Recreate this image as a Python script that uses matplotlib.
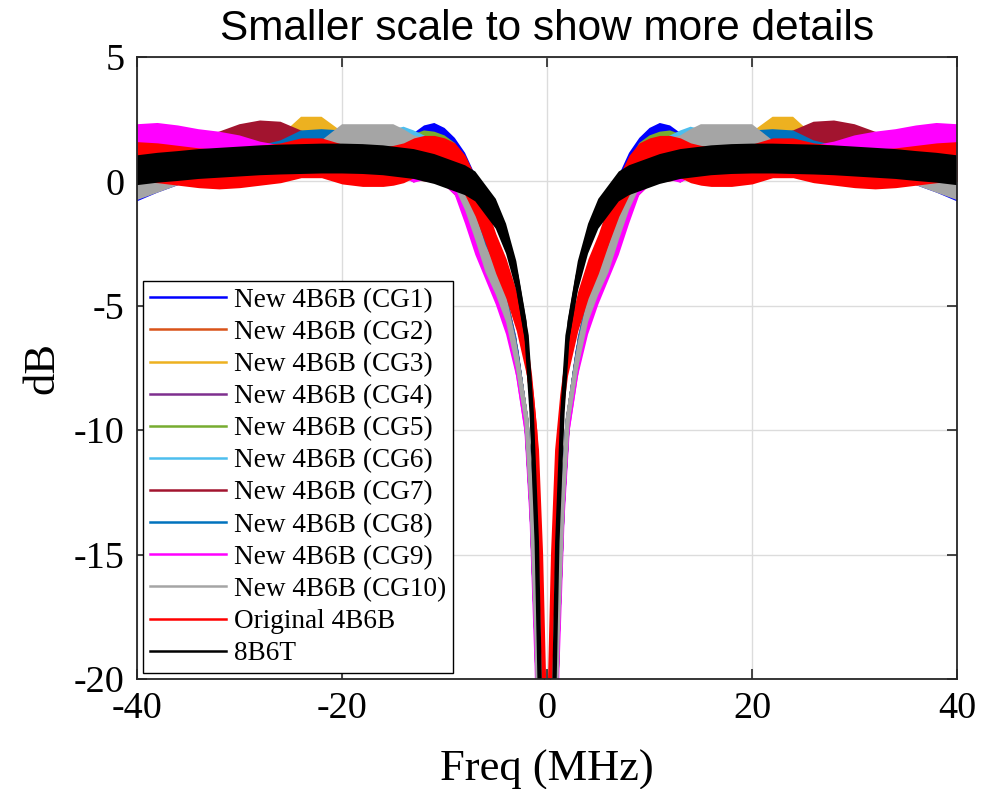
import numpy as np
import matplotlib

matplotlib.use("Agg")
import matplotlib.pyplot as plt
from matplotlib.lines import Line2D

plt.rcParams["axes.unicode_minus"] = False

# positive half of the frequency axis (MHz); the spectra are mirrored to negative side
freq = [0.25, 0.6, 1, 1.5, 2, 3, 4, 5, 6, 7,
        8, 9, 10, 11, 12, 13, 14, 15, 16, 18, 20, 22, 24, 26, 28, 30, 32, 34, 36, 38, 40]

# mean level of each noisy spectrum (dB)
cg1 = [-35, -26, -18.7, -13.2, -9.8, -6.8, -5.0, -3.8, -2.6, -0.3,
       0.6, 1.2, 1.6, 1.8, 1.7, 1.4, 1.1, 0.9, 0.8, 0.8, 0.8, 0.8, 0.8, 0.8, 0.8, 0.8, 0.7, 0.6, 0.4, 0.1, -0.25]
cg2 = [-35, -26, -18.6, -13.1, -9.7, -6.9, -5.05, -3.9, -2.9, -1.5,
       -0.3, 0.4, 0.7, 0.85, 0.9, 0.9, 0.9, 0.9, 0.9, 0.9, 0.95, 1.0, 1.0, 0.95, 0.9, 0.9, 0.85, 0.8, 0.7, 0.5, 0.2]
cg3 = [-35, -26, -18.6, -13.1, -9.7, -6.9, -5.05, -3.9, -2.9, -1.5,
       -0.3, 0.4, 0.7, 0.85, 0.9, 0.8, 0.9, 0.9, 0.95, 1.1, 1.45, 2.05, 2.05, 1.3, 1.0, 0.9, 0.85, 0.8, 0.7, 0.5, 0.2]
cg4 = [-35, -26, -18.6, -13.1, -9.7, -6.9, -5.05, -3.9, -2.9, -1.5,
       -0.3, 0.3, 0.6, 0.75, 0.75, 0.5, 0.75, 0.85, 0.9, 0.95, 1.0, 1.0, 0.95, 0.8, 0.9, 0.95, 0.9, 0.85, 0.7, 0.5, 0.2]
cg5 = [-35, -26, -18.6, -13.1, -9.7, -6.9, -5.0, -3.85, -2.8, -1.0,
       0.3, 1.0, 1.3, 1.45, 1.5, 1.35, 1.0, 0.9, 0.9, 0.9, 0.95, 0.95, 0.9, 0.5, 0.85, 0.9, 0.9, 0.85, 0.7, 0.5, 0.2]
cg6 = [-35, -26, -18.6, -13.1, -9.7, -6.9, -5.05, -3.9, -2.9, -1.5,
       -0.3, 0.4, 0.9, 1.1, 1.3, 1.5, 1.65, 1.55, 1.4, 1.3, 1.4, 1.2, 1.0, 0.9, 0.9, 0.9, 0.85, 0.8, 0.7, 0.5, 0.2]
cg7 = [-35, -26, -18.6, -13.1, -9.7, -6.9, -5.05, -3.9, -2.9, -1.5,
       -0.6, 0.0, 0.4, 0.5, 0.55, 0.6, 0.7, 0.8, 0.85, 0.9, 1.0, 1.2, 1.5, 1.85, 1.9, 1.75, 1.45, 1.2, 1.0, 0.8, 0.6]
cg8 = [-35, -26, -18.6, -13.1, -9.7, -6.9, -5.05, -3.9, -2.9, -1.5,
       -0.3, 0.4, 0.7, 0.85, 0.9, 0.9, 0.95, 1.0, 1.05, 1.2, 1.5, 1.55, 1.5, 1.1, 0.9, 0.9, 0.85, 0.8, 0.7, 0.5, 0.2]
cg9 = [-35, -27, -19.5, -13.5, -10, -7.3, -5.6, -4.4, -3.4, -2.4,
       -1.15, 0.0, 0.4, 0.55, 0.6, 0.5, 0.7, 0.8, 0.9, 1.0, 1.0, 1.0, 0.95, 0.9, 1.05, 1.3, 1.45, 1.55, 1.7, 1.8, 1.75]
cg10 = [-35, -26, -18.5, -13, -9.6, -7.0, -5.1, -4.0, -3.1, -1.8,
        -0.6, 0.3, 0.8, 1.1, 1.2, 1.3, 1.55, 1.75, 1.75, 1.75, 1.75, 1.1, 0.95, 0.9, 0.85, 0.8, 0.7, 0.6, 0.4, 0.1, -0.2]
orig = [-21, -15, -10.8, -8.6, -7.0, -5.2, -3.9, -2.9, -1.7, -0.6,
        0.25, 0.75, 0.95, 1.05, 1.05, 0.95, 0.75, 0.65, 0.6, 0.6, 0.7, 0.95, 0.95, 0.75, 0.65, 0.55, 0.5, 0.55, 0.65, 0.75, 0.8]
b8b6t = [-40, -22.5, -14.5, -9.3, -6.2, -3.8, -2.3, -1.3, -0.75, -0.2,
         0.05, 0.2, 0.35, 0.5, 0.6, 0.7, 0.75, 0.8, 0.85, 0.9, 0.92, 0.92, 0.9, 0.88, 0.85, 0.8, 0.75, 0.7, 0.62, 0.55, 0.45]

labels = ["New 4B6B (CG1)", "New 4B6B (CG2)", "New 4B6B (CG3)", "New 4B6B (CG4)",
          "New 4B6B (CG5)", "New 4B6B (CG6)", "New 4B6B (CG7)", "New 4B6B (CG8)",
          "New 4B6B (CG9)", "New 4B6B (CG10)", "Original 4B6B", "8B6T"]
series = [cg1, cg2, cg3, cg4, cg5, cg6, cg7, cg8, cg9, cg10, orig, b8b6t]
# noise spread (half width, dB) of each trace
half_width = [0.55] * 10 + [0.8, 0.6]

colors = ["#0000FF", "#D95319", "#EDB120", "#7E2F8E", "#77AC30", "#4DBEEE",
          "#A2142F", "#0072BD", "#FF00FF", "#A5A5A5", "#FF0000", "#000000"]

serif = ["Liberation Serif", "DejaVu Serif"]

fig = plt.figure(figsize=(9.88, 7.89), dpi=100)
ax = fig.add_axes([0.1387, 0.1394, 0.8300, 0.7883])

f = np.array(freq)
for i, (vals, hw, col) in enumerate(zip(series, half_width, colors)):
    v = np.array(vals)
    for side in (-1, 1):
        ax.fill_between(side * f, v - hw, v + hw, color=col, lw=0, zorder=2 + i)
        ax.plot(side * f, v, color=col, lw=3.2, solid_capstyle="butt", zorder=2 + i)

ax.set_xlim(-40, 40)
ax.set_ylim(-20, 5)
ax.set_xticks([-40, -20, 0, 20, 40])
ax.set_yticks([5, 0, -5, -10, -15, -20])
ax.set_axisbelow(True)
ax.grid(True, color="#DCDCDC", lw=1.0)
ax.tick_params(direction="in", length=7, width=1.2, top=True, right=True,
               labelsize=27.5, pad=9, colors="#262626")
for lab in ax.get_xticklabels() + ax.get_yticklabels():
    lab.set_family(serif)
    lab.set_color("black")
for sp in ax.spines.values():
    sp.set_linewidth(1.3)
    sp.set_color("#262626")
    sp.set_zorder(30)

ax.set_xlabel("Freq (MHz)", family=serif, fontsize=32, labelpad=17)
ax.set_ylabel("dB", family=serif, fontsize=32, labelpad=8)
ax.set_title("Smaller scale to show more details", family=["Liberation Sans", "DejaVu Sans"],
             fontsize=30.5, pad=12)

handles = [Line2D([0], [0], color=c, lw=1.8) for c in colors]
leg = ax.legend(handles, labels, loc="lower left", bbox_to_anchor=(0.0073, 0.0096),
                borderaxespad=0, prop={"family": serif, "size": 19.6}, frameon=True,
                fancybox=False, framealpha=1, edgecolor="black", handlelength=2.8,
                handletextpad=0.3, labelspacing=0.26, borderpad=0.25)
leg.get_frame().set_linewidth(1.0)
leg.set_zorder(40)

fig.savefig("out.png", dpi=100)
